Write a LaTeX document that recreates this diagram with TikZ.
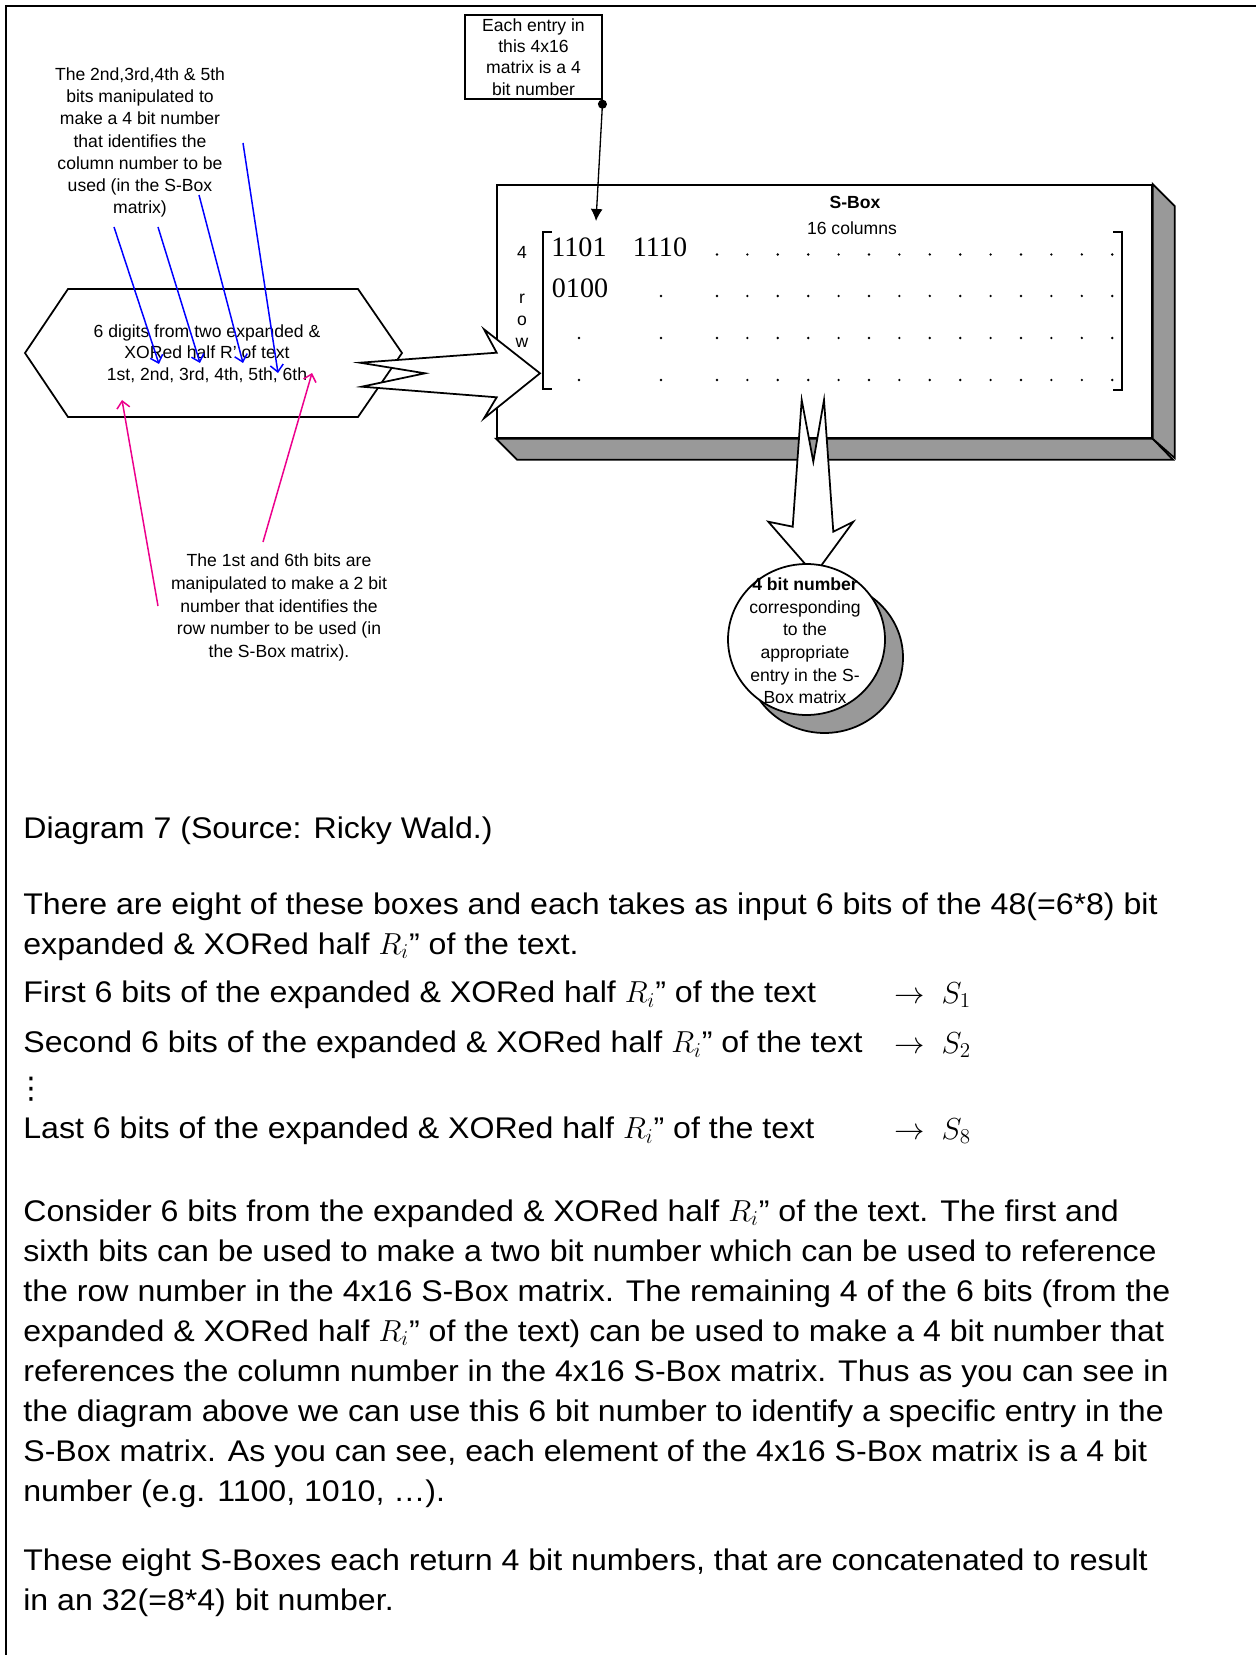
\documentclass[tikz,border=0pt]{standalone}
\usepackage{fontspec}
\setmainfont{Liberation Sans}
\newfontfamily\numfont{Liberation Serif}
\newfontfamily\bodyfont[FakeStretch=1.075, Ligatures=TeX]{Liberation Sans}
\newfontfamily\symbolfont{DejaVu Sans}
\usetikzlibrary{arrows.meta,shapes.geometric}
\tikzset{
  note/.style={align=center, inner sep=0pt, font=\fontsize{10}{12.6}\selectfont},
  body/.style={anchor=west, align=left, inner sep=0pt, font=\bodyfont\fontsize{17}{22.8}\selectfont},
  entrybox/.style={draw=black, line width=0.8pt, inner sep=0pt, minimum width=2.74cm, minimum height=1.68cm, align=center, font=\fontsize{10}{12.2}\selectfont},
  bluearrow/.style={draw=blue, line width=0.85pt, -{Straight Barb[length=1.4mm,width=2.6mm]}},
  pinkarrow/.style={draw=magenta, line width=0.85pt, -{Straight Barb[length=1.4mm,width=2.6mm]}},
  blockarrow/.style={draw=black, fill=white, line width=1pt, line join=miter},
  face/.style={draw=black, fill=white, line width=1pt, inner sep=0pt},
  sideface/.style={draw=black, fill=black!40, line width=1pt},
  bracket/.style={draw=black, line width=0.6pt},
  entry/.style={font=\numfont\fontsize{16}{16}\selectfont, inner sep=0pt},
  bubble/.style={ellipse, draw=black, line width=1pt, inner sep=0pt, minimum width=3.14cm, minimum height=3.02cm}
}

\begin{document}
\begin{tikzpicture}[x=0.02cm, y=-0.02cm]
\useasboundingbox (0,0) rectangle (1256,1655);
\draw[line width=1.4pt] (6,1655) -- (6,6) -- (1256,6);

% input block
\draw[line width=1pt] (25,353) -- (68,289) -- (358,289) -- (402,353) -- (358,417) -- (68,417) -- cycle;
\node[note, font=\fontsize{10}{12.2}\selectfont] (digits) at (207,353.5) {6 digits from two expanded \&\\XORed half R' of text\\1st, 2nd, 3rd, 4th, 5th, 6th};
\node[note] (colnote) at (140,142.5) {The 2nd,3rd,4th \& 5th\\bits manipulated to\\make a 4 bit number\\that identifies the\\column number to be\\used (in the S-Box\\matrix)};
\node[note, font=\fontsize{10}{12.9}\selectfont] (rownote) at (279,607.5) {The 1st and 6th bits are\\manipulated to make a 2 bit\\number that identifies the\\row number to be used (in\\the S-Box matrix).};

% s-box
\node[face, anchor=north west, minimum width=13.1cm, minimum height=5.06cm] (sbox) at (496,184) {};
\draw[sideface] (sbox.south west) -- ++(21,21) -- ++(656,0) -- (sbox.south east) -- cycle;
\draw[sideface] (sbox.north east) -- ++(22,22) -- ++(0,252) -- (sbox.south east) -- cycle;
\node[font=\bfseries\fontsize{10}{12}\selectfont, inner sep=0pt] (sboxtitle) at (855,202) {S-Box};
\node[note] (cols) at (852,228) {16 columns};
\node[note] (rowfour) at (522,252) {4};
\node[note] (rowword) at (522,320.5) {r\\o\\w};
\draw[bracket] (552,232) -- (543,232) -- (543,389) -- (552,389);
\draw[bracket] (1113,232) -- (1122,232) -- (1122,390) -- (1113,390);
\node[entry] (e11) at (579,247) {1101};
\node[entry] (e12) at (660,247) {1110};
\node[entry] (e21) at (580,288) {0100};
\foreach \y in {254.5,296,338,380}
  \foreach \k in {0,...,13}
    \fill (717+30.4*\k,\y) circle[radius=0.75pt];
\foreach \y in {296,338,380}
  \fill (661,\y) circle[radius=0.75pt];
\foreach \y in {338,380}
  \fill (579,\y) circle[radius=0.75pt];

% block arrows
\draw[blockarrow] (360,362.7) -- (496.7,352.7) -- (484,329.3) -- (540,373.3) -- (484,418.3) -- (496.7,397.3) -- (361.7,386.7) -- (425,373.3) -- cycle;
\draw[blockarrow] (801.7,400) -- (813.3,461.7) -- (824,400) -- (833.3,531.7) -- (853.3,521.7) -- (814.5,574.7) -- (768.3,521.7) -- (792.7,526.7) -- cycle;

% output
\node[bubble, fill=black!40] (shade) at (824.5,657.5) {};
\node[bubble, fill=white] (result) at (806.5,639.5) {};
\node[note, font=\fontsize{10}{12.9}\selectfont] (resulttxt) at (805,641) {\textbf{4 bit number}\\corresponding\\to the\\appropriate\\entry in the S-\\Box matrix};

% entry note
\node[entrybox] (entry) at (533.5,57) {Each entry in\\this 4x16\\matrix is a 4\\bit number};
\coordinate (hit) at (596,221);
\draw[line width=0.75pt, {Circle[length=1.8mm]}-{Latex[length=2.4mm,width=2.4mm]}] (entry.south east) -- (hit);

% bit pointers
\coordinate (b2s) at (114,227);  \coordinate (b2) at (159,364);
\coordinate (b3s) at (158,227);  \coordinate (b3) at (200,363);
\coordinate (b4s) at (199,195);  \coordinate (b4) at (243,363);
\coordinate (b5s) at (243,143);  \coordinate (b5) at (278,373);
\draw[bluearrow] (b2s) -- (b2);
\draw[bluearrow] (b3s) -- (b3);
\draw[bluearrow] (b4s) -- (b4);
\draw[bluearrow] (b5s) -- (b5);
\coordinate (b1s) at (158,606);  \coordinate (b1) at (122,400);
\coordinate (b6s) at (263,542);  \coordinate (b6) at (312,373);
\draw[pinkarrow] (b1s) -- (b1);
\draw[pinkarrow] (b6s) -- (b6);

% text below
\node[body] (caption) at (23,831) {Diagram 7 (Source: Ricky Wald.)};
\node[body] (intro) at (23,926.5) {There are eight of these boxes and each takes as input 6 bits of the 48(=6*8) bit\\expanded \& XORed half $R_i$'' of the text.};
\node[body] (first) at (23,995) {First 6 bits of the expanded \& XORed half $R_i$'' of the text};
\node[body] (second) at (23,1045) {Second 6 bits of the expanded \& XORed half $R_i$'' of the text};
\node[body, font=\symbolfont\fontsize{17}{17}\selectfont] (skip) at (16,1089) {⋮};
\node[body] (last) at (23,1131) {Last 6 bits of the expanded \& XORed half $R_i$'' of the text};
\node[body] (to1) at (894,995) {$\rightarrow\; S_1$};
\node[body] (to2) at (894,1045) {$\rightarrow\; S_2$};
\node[body] (to8) at (894,1131) {$\rightarrow\; S_8$};
\node[body] (consider) at (23,1353.5) {Consider 6 bits from the expanded \& XORed half $R_i$'' of the text. The first and\\sixth bits can be used to make a two bit number which can be used to reference\\the row number in the 4x16 S-Box matrix. The remaining 4 of the 6 bits (from the\\expanded \& XORed half $R_i$'' of the text) can be used to make a 4 bit number that\\references the column number in the 4x16 S-Box matrix. Thus as you can see in\\the diagram above we can use this 6 bit number to identify a specific entry in the\\S-Box matrix. As you can see, each element of the 4x16 S-Box matrix is a 4 bit\\number (e.g. 1100, 1010, …).};
\node[body] (concl) at (23,1582.5) {These eight S-Boxes each return 4 bit numbers, that are concatenated to result\\in an 32(=8*4) bit number.};
\end{tikzpicture}
\end{document}
